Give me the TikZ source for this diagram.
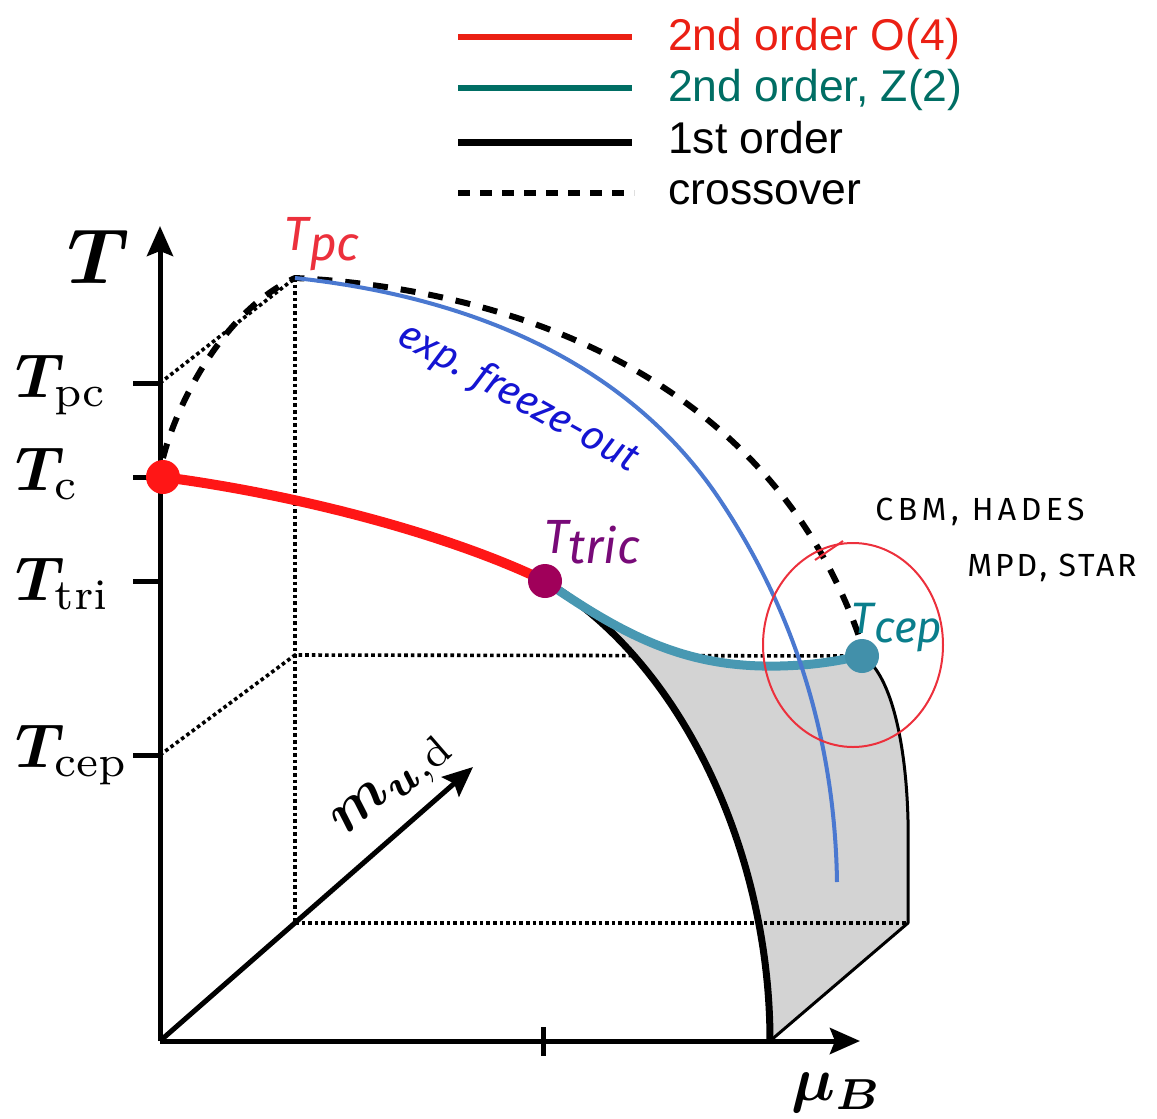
\documentclass[tikz,border=0pt]{standalone}
\usepackage{bm}
\usepackage{fontspec}
\newfontfamily\legfont{Liberation Sans}
\newfontfamily\handfont{Fira Sans}
\newfontfamily\handwide[LetterSpace=14]{Fira Sans}
\newfontfamily\handmid[LetterSpace=9]{Fira Sans}
\usetikzlibrary{arrows.meta}
\definecolor{legred}{RGB}{235,32,20}
\definecolor{legteal}{RGB}{0,110,100}
\definecolor{curvered}{RGB}{255,22,22}
\definecolor{curveteal}{RGB}{72,152,178}
\definecolor{cepdot}{RGB}{66,144,170}
\definecolor{tricdot}{RGB}{160,0,90}
\definecolor{tricpurple}{RGB}{120,10,120}
\definecolor{cepteal}{RGB}{10,126,140}
\definecolor{fzblue}{RGB}{74,120,208}
\definecolor{fztext}{RGB}{20,20,210}
\definecolor{annred}{RGB}{236,48,60}
\definecolor{regiongray}{RGB}{211,211,211}
\tikzset{
  axisline/.style={line width=5pt},
  tiparrow/.style={-{Stealth[length=30pt,width=26pt,inset=5pt]}},
  dotline/.style={line width=3.6pt, dash pattern=on 3.6pt off 3pt},
  crossline/.style={line width=6pt, dash pattern=on 15pt off 13pt},
  ticklabel/.style={scale=6.2, anchor=base west, inner sep=0pt},
  legtext/.style={anchor=base west, inner sep=0pt, font=\legfont\fontsize{44.5}{50}\selectfont},
  handtext/.style={inner sep=0pt, font=\handfont\itshape\fontsize{48}{54}\selectfont},
}
\begin{document}
\begin{tikzpicture}[x=1pt,y=-1pt,line join=round]
\useasboundingbox (0,0) rectangle (1157,1119);
% key points
\coordinate (O) at (160,1041);
\coordinate (Ttop) at (160,226);
\coordinate (Mend) at (860,1041);
\coordinate (Mtip) at (473,767);
\coordinate (Tc) at (163,477);
\coordinate (Ttric) at (545,581);
\coordinate (Tcep) at (862,656);
\coordinate (Ppc) at (295,278);
\coordinate (Bpc) at (160,383);
\coordinate (Bcep) at (160,755);
\coordinate (Bk) at (295,923);
\coordinate (Bkcep) at (295,655);
\coordinate (Rk) at (908,923);
\coordinate (Fo) at (770,1041);
\coordinate (Fzend) at (837,882);

% legend
\draw[line width=6pt, legred] (458,37) -- (632,37);
\draw[line width=6pt, legteal] (458,88) -- (632,88);
\draw[line width=7pt, black] (458,142) -- (632,142);
\draw[line width=6pt, dash pattern=on 12pt off 10pt] (458,193) -- (634,193);
\node[legtext, text=legred] (l1) at (668,50) {2nd order O(4)};
\node[legtext, text=legteal] (l2) at (668,101) {2nd order, Z(2)};
\node[legtext] (l3) at (668,153) {1st order};
\node[legtext] (l4) at (668,204) {crossover};

% dotted box lines (behind)
\draw[dotline] (Bpc) -- (Ppc);
\draw[dotline] (Ppc) -- (Bk);
\draw[dotline] (Bcep) -- (Bkcep) -- (Tcep);

% shaded region
\fill[regiongray] (Ttric) .. controls (680,660) and (770,850) .. (Fo)
  -- (Rk) -- (908,820) .. controls (906,740) and (890,672) .. (Tcep)
  .. controls (840,660) and (820,665) .. (780,666)
  .. controls (690,668) and (630,640) .. (Ttric) -- cycle;

\draw[dotline] (Bk) -- (Rk);

% axes
\draw[axisline, tiparrow] (O) -- (Ttop);
\draw[axisline, tiparrow] (O) -- (Mend);
\draw[axisline, tiparrow] (O) -- (Mtip);
\draw[axisline] (133,383) -- (Bpc);
\draw[axisline] (133,477) -- (160,477);
\draw[axisline] (133,581) -- (160,581);
\draw[axisline] (133,755) -- (Bcep);
\draw[axisline] (543,1027) -- (543,1056);

% axis labels
\node[scale=7.8, anchor=base west, inner sep=0pt] (Tlab) at (66,283) {$\bm{T}$};
\node[ticklabel] (lpc) at (14,397) {$\bm{T}_{\mathrm{pc}}$};
\node[ticklabel] (lc) at (14,490) {$\bm{T}_{\mathrm{c}}$};
\node[ticklabel] (ltri) at (14,600) {$\bm{T}_{\mathrm{tri}}$};
\node[ticklabel] (lcep) at (14,767) {$\bm{T}_{\mathrm{cep}}$};
\node[scale=6.2, anchor=base west, inner sep=0pt] (mulab) at (790,1100) {$\bm{\mu}_{\bm{B}}$};
\node[scale=6.0, rotate=41, inner sep=0pt] (mlab) at (395,787) {$\bm{m}_{\bm{u},\mathrm{d}}$};

% first order lines
\draw[line width=3pt] (Fo) -- (Rk) -- (908,820) .. controls (906,740) and (890,672) .. (Tcep);
\draw[line width=7pt] (Ttric) .. controls (680,660) and (770,850) .. (Fo);

% crossover
\draw[crossline] (163,458) .. controls (178,400) and (225,310) .. (Ppc)
  .. controls (500,288) and (770,370) .. (862,645);

% second order lines
\draw[line width=10pt, curvered] (Tc) .. controls (300,495) and (450,535) .. (Ttric);
\draw[line width=9pt, curveteal] (Ttric) .. controls (630,640) and (690,668) .. (780,666)
  .. controls (820,665) and (840,660) .. (Tcep);

% freeze-out
\draw[line width=4pt, fzblue] (Ppc) .. controls (500,300) and (640,380) .. (720,500)
  .. controls (800,620) and (835,750) .. (Fzend);

% points
\fill[curvered] (Tc) circle[radius=17pt];
\fill[tricdot] (Ttric) circle[radius=17pt];
\fill[cepdot] (Tcep) circle[radius=17pt];

% annotation circle
\draw[annred, line width=2pt] (853,645) ellipse[x radius=90pt, y radius=102pt];
\draw[annred, line width=2pt] (843,541) -- (815,560);

% handwritten labels
\node[handtext, text=annred] (hpc) at (322,244) {T\raisebox{-10pt}{pc}};
\node[handtext, text=fztext, rotate=-29, font=\handfont\itshape\fontsize{40}{46}\selectfont] (hfz) at (518,398) {exp. freeze-out};
\node[handtext, text=tricpurple] (htric) at (592,542) {T\raisebox{-10pt}{tric}};
\node[handtext, text=cepteal, font=\handfont\itshape\fontsize{44}{50}\selectfont] (hcep) at (897,628) {T\raisebox{-9pt}{cep}};
\node[inner sep=0pt, font=\handwide\fontsize{32}{38}\selectfont] (hcbm) at (980,512) {CBM, HADES};
\node[inner sep=0pt, font=\handmid\fontsize{32}{38}\selectfont] (hmpd) at (1052,568) {MPD, STAR};
\end{tikzpicture}
\end{document}
